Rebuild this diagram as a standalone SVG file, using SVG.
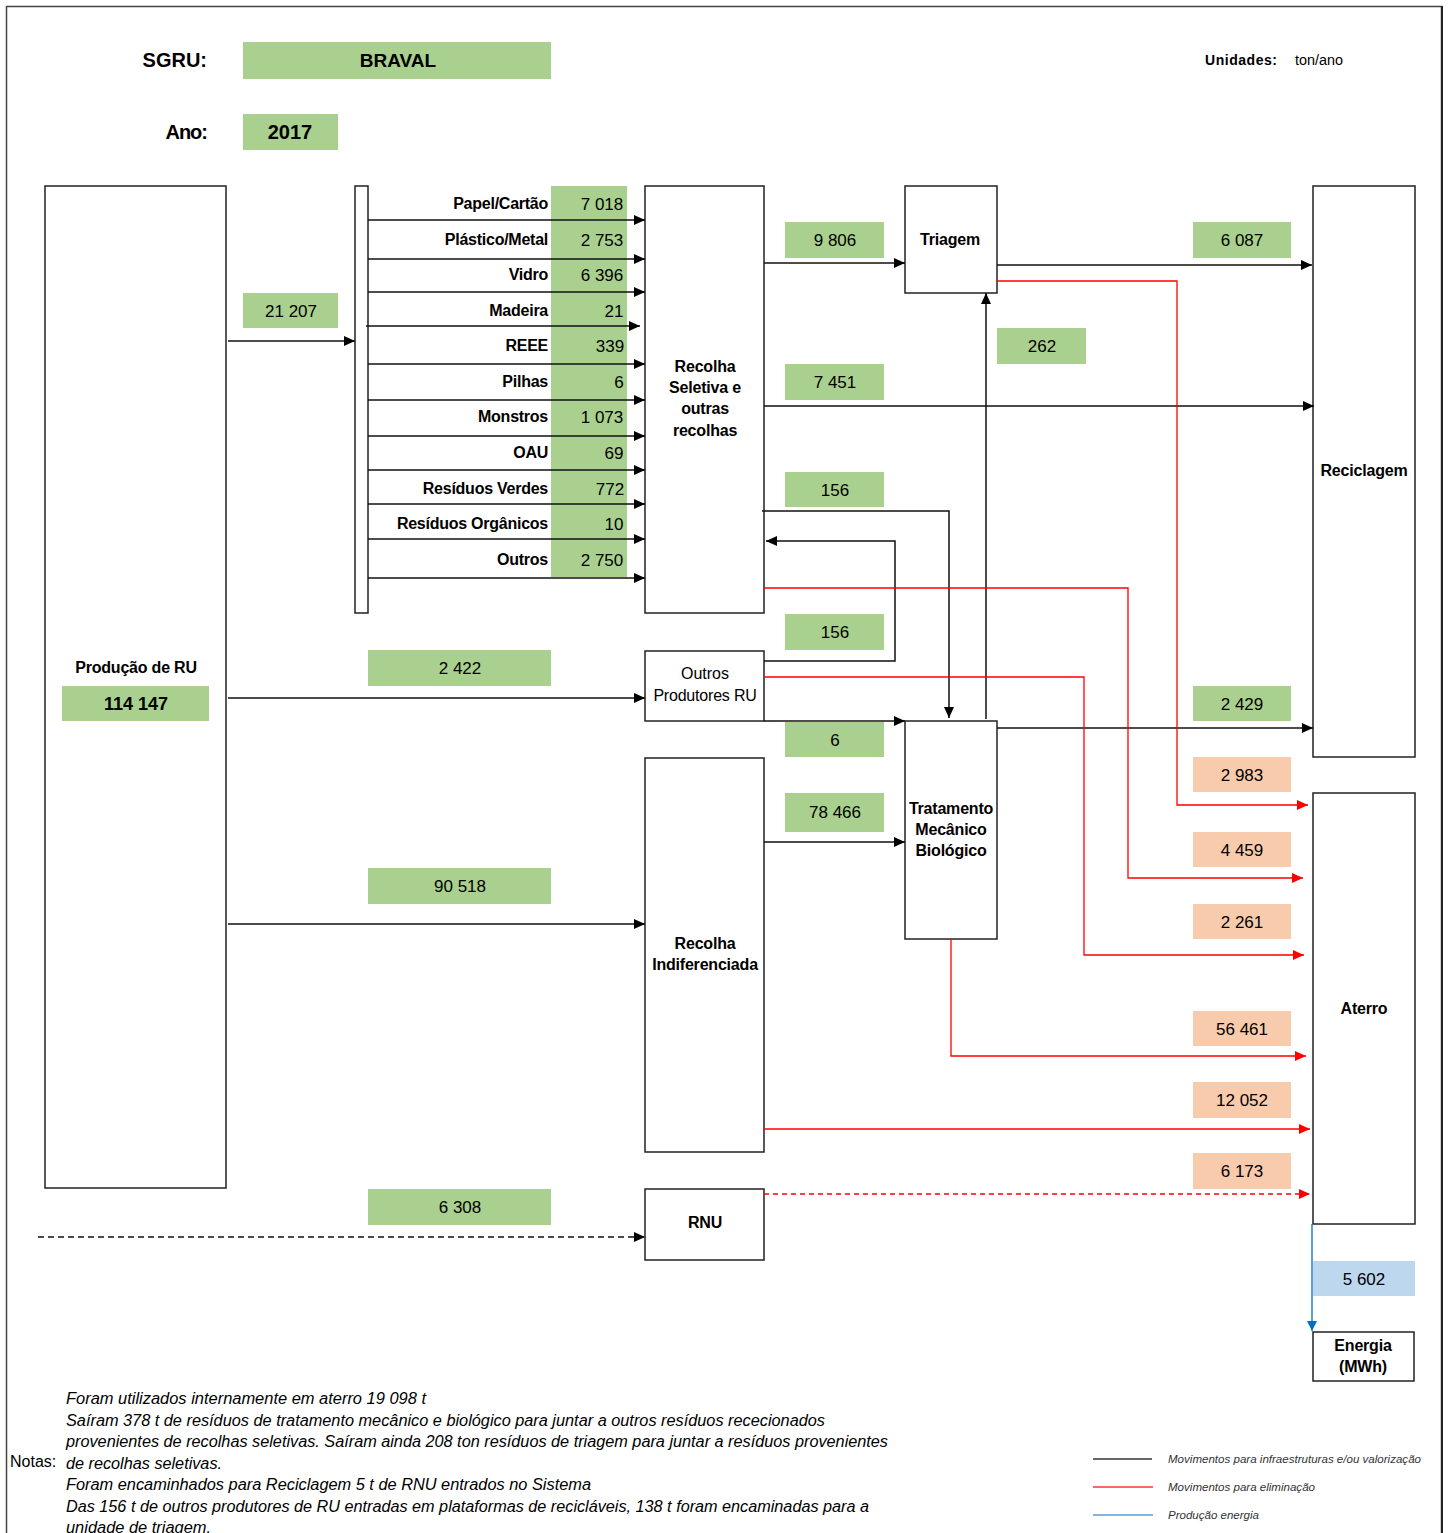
<svg xmlns="http://www.w3.org/2000/svg" width="1448" height="1533" viewBox="0 0 1448 1533">
<defs>
<style>
.t{font-family:"Liberation Sans",Arial,sans-serif;fill:#000}
.b{font-weight:bold}
.lab{font-size:16px;font-weight:bold;text-anchor:end;letter-spacing:-0.25px}
.val{font-size:17px;text-anchor:middle}
.nt{font-size:16px;font-weight:bold;text-anchor:middle;letter-spacing:-0.2px}
.box{fill:#fff;stroke:#222;stroke-width:1.5}
.g{fill:#a9d08e}
.p{fill:#f8cbad}
.bl{fill:#bdd7ee}
.k{stroke:#111;stroke-width:1.5;fill:none}
.r{stroke:#ff0000;stroke-width:1.3;fill:none}
.u{stroke:#0070c0;stroke-width:1.3;fill:none}
.note{font-size:16px;font-style:italic}
.leg{font-size:11px;font-style:italic;fill:#333}
</style>
<marker id="ak" markerUnits="userSpaceOnUse" markerWidth="11" markerHeight="10" refX="11" refY="5" orient="auto"><path d="M0,0 L11,5 L0,10 z" fill="#000"/></marker>
<marker id="ar" markerUnits="userSpaceOnUse" markerWidth="11" markerHeight="10" refX="11" refY="5" orient="auto"><path d="M0,0 L11,5 L0,10 z" fill="#ff0000"/></marker>
<marker id="ab" markerUnits="userSpaceOnUse" markerWidth="10" markerHeight="10" refX="10" refY="5" orient="auto"><path d="M0,0 L10,5 L0,10 z" fill="#0070c0"/></marker>
</defs>
<rect width="1448" height="1533" fill="#fff"/>
<rect x="6.5" y="6.5" width="1435" height="1540" fill="none" stroke="#444" stroke-width="1.5"/>
<line x1="1442" y1="6" x2="1442" y2="1533" stroke="#222" stroke-width="2"/>

<g id="header">
<text class="t b" x="207" y="67" font-size="20" text-anchor="end">SGRU:</text>
<rect class="g" x="243" y="42" width="308" height="37"/>
<text class="t b" x="398" y="67" font-size="19" text-anchor="middle">BRAVAL</text>
<text class="t b" x="207" y="139" font-size="20" text-anchor="end" letter-spacing="-1">Ano:</text>
<rect class="g" x="243" y="114" width="95" height="36"/>
<text class="t b" x="290" y="139" font-size="20" text-anchor="middle">2017</text>
<text class="t b" x="1205" y="65" font-size="14" textLength="72" lengthAdjust="spacing">Unidades:</text>
<text class="t" x="1295" y="65" font-size="14" textLength="48" lengthAdjust="spacingAndGlyphs">ton/ano</text>
</g>

<g id="values">
<rect class="g" x="243" y="293" width="95" height="35"/><text class="t val" x="291" y="317">21 207</text>
<rect class="g" x="551" y="186" width="76" height="391"/>
<rect class="g" x="785" y="222" width="99" height="36"/><text class="t val" x="835" y="246">9 806</text>
<rect class="g" x="1193" y="222" width="98" height="36"/><text class="t val" x="1242" y="246">6 087</text>
<rect class="g" x="997" y="328" width="89" height="36"/><text class="t val" x="1042" y="352">262</text>
<rect class="g" x="785" y="364" width="99" height="36"/><text class="t val" x="835" y="388">7 451</text>
<rect class="g" x="785" y="472" width="99" height="35"/><text class="t val" x="835" y="496">156</text>
<rect class="g" x="785" y="614" width="99" height="36"/><text class="t val" x="835" y="638">156</text>
<rect class="g" x="368" y="650" width="183" height="36"/><text class="t val" x="460" y="674">2 422</text>
<rect class="g" x="1193" y="686" width="98" height="35"/><text class="t val" x="1242" y="710">2 429</text>
<rect class="g" x="785" y="722" width="99" height="35"/><text class="t val" x="835" y="746">6</text>
<rect class="p" x="1193" y="757" width="98" height="35"/><text class="t val" x="1242" y="781">2 983</text>
<rect class="g" x="785" y="793" width="99" height="39"/><text class="t val" x="835" y="818">78 466</text>
<rect class="p" x="1193" y="832" width="98" height="35"/><text class="t val" x="1242" y="856">4 459</text>
<rect class="g" x="368" y="868" width="183" height="36"/><text class="t val" x="460" y="892">90 518</text>
<rect class="p" x="1193" y="904" width="98" height="35"/><text class="t val" x="1242" y="928">2 261</text>
<rect class="p" x="1193" y="1011" width="98" height="35"/><text class="t val" x="1242" y="1035">56 461</text>
<rect class="p" x="1193" y="1082" width="98" height="36"/><text class="t val" x="1242" y="1106">12 052</text>
<rect class="p" x="1193" y="1153" width="98" height="36"/><text class="t val" x="1242" y="1177">6 173</text>
<rect class="g" x="368" y="1189" width="183" height="36"/><text class="t val" x="460" y="1213">6 308</text>
<rect class="bl" x="1313" y="1261" width="102" height="35"/><text class="t val" x="1364" y="1285">5 602</text>
</g>

<g id="producao">
<rect class="box" x="45" y="186" width="181" height="1002"/>
<text class="t nt" x="136" y="673" letter-spacing="-0.5">Produção de RU</text>
<rect class="g" x="62" y="686" width="147" height="35"/>
<text class="t b" x="136" y="710" font-size="18" text-anchor="middle">114 147</text>
</g>

<g id="distribuidor">
<rect class="box" x="355" y="186" width="13" height="427"/>
</g>

<g id="materiais">
<text class="t lab" x="548" y="209">Papel/Cartão</text><text class="t val" x="602" y="210">7 018</text>
<text class="t lab" x="548" y="245">Plástico/Metal</text><text class="t val" x="602" y="246">2 753</text>
<text class="t lab" x="548" y="280">Vidro</text><text class="t val" x="602" y="281">6 396</text>
<text class="t lab" x="548" y="316">Madeira</text><text class="t val" x="614" y="317">21</text>
<text class="t lab" x="548" y="351">REEE</text><text class="t val" x="610" y="352">339</text>
<text class="t lab" x="548" y="387">Pilhas</text><text class="t val" x="619" y="388">6</text>
<text class="t lab" x="548" y="422">Monstros</text><text class="t val" x="602" y="423">1 073</text>
<text class="t lab" x="548" y="458">OAU</text><text class="t val" x="614" y="459">69</text>
<text class="t lab" x="548" y="494">Resíduos Verdes</text><text class="t val" x="610" y="495">772</text>
<text class="t lab" x="548" y="529">Resíduos Orgânicos</text><text class="t val" x="614" y="530">10</text>
<text class="t lab" x="548" y="565">Outros</text><text class="t val" x="602" y="566">2 750</text>
</g>

<g id="recolha-seletiva">
<rect class="box" x="645" y="186" width="119" height="427"/>
<text class="t nt" x="705" y="372">Recolha</text>
<text class="t nt" x="705" y="393">Seletiva e</text>
<text class="t nt" x="705" y="414">outras</text>
<text class="t nt" x="705" y="436">recolhas</text>
</g>

<g id="triagem">
<rect class="box" x="905" y="186" width="92" height="107"/>
<text class="t nt" x="950" y="245">Triagem</text>
</g>

<g id="outros-produtores">
<rect class="box" x="645" y="651" width="119" height="70"/>
<text class="t" x="705" y="679" font-size="16" text-anchor="middle">Outros</text>
<text class="t" x="705" y="701" font-size="16" text-anchor="middle" letter-spacing="-0.2">Produtores RU</text>
</g>

<g id="tmb">
<rect class="box" x="905" y="721" width="92" height="218"/>
<text class="t nt" x="951" y="814" letter-spacing="-0.4">Tratamento</text>
<text class="t nt" x="951" y="835">Mecânico</text>
<text class="t nt" x="951" y="856">Biológico</text>
</g>

<g id="recolha-indiferenciada">
<rect class="box" x="645" y="758" width="119" height="394"/>
<text class="t nt" x="705" y="949">Recolha</text>
<text class="t nt" x="705" y="970" letter-spacing="-0.4">Indiferenciada</text>
</g>

<g id="rnu">
<rect class="box" x="645" y="1189" width="119" height="71"/>
<text class="t nt" x="705" y="1228">RNU</text>
</g>

<g id="reciclagem">
<rect class="box" x="1313" y="186" width="102" height="571"/>
<text class="t nt" x="1364" y="476">Reciclagem</text>
</g>

<g id="aterro">
<rect class="box" x="1313" y="793" width="102" height="431"/>
<text class="t nt" x="1364" y="1014" letter-spacing="-0.8">Aterro</text>
</g>

<g id="energia">
<rect class="box" x="1313" y="1332" width="101" height="49"/>
<text class="t nt" x="1363" y="1351" letter-spacing="-0.5">Energia</text>
<text class="t nt" x="1363" y="1372" letter-spacing="-0.8">(MWh)</text>
</g>

<g id="connectors">
<path class="k" d="M228,341 H355" marker-end="url(#ak)"/>
<path class="k" d="M368,220 H645" marker-end="url(#ak)"/>
<path class="k" d="M368,259 H645" marker-end="url(#ak)"/>
<path class="k" d="M368,292 H645" marker-end="url(#ak)"/>
<path class="k" d="M366,326 H640" marker-end="url(#ak)"/>
<path class="k" d="M368,364 H645" marker-end="url(#ak)"/>
<path class="k" d="M368,400 H645" marker-end="url(#ak)"/>
<path class="k" d="M368,436 H645" marker-end="url(#ak)"/>
<path class="k" d="M368,470 H645" marker-end="url(#ak)"/>
<path class="k" d="M368,504 H645" marker-end="url(#ak)"/>
<path class="k" d="M368,539 H645" marker-end="url(#ak)"/>
<path class="k" d="M368,578 H645" marker-end="url(#ak)"/>
<path class="k" d="M764,263 H905" marker-end="url(#ak)"/>
<path class="k" d="M997,265 H1312" marker-end="url(#ak)"/>
<path class="k" d="M764,406 H1314" marker-end="url(#ak)"/>
<path class="k" d="M986,719 V293" marker-end="url(#ak)"/>
<path class="k" d="M762,511 H949 V718" marker-end="url(#ak)"/>
<path class="k" d="M764,661 H895 V541 H766" marker-end="url(#ak)"/>
<path class="k" d="M228,698 H645" marker-end="url(#ak)"/>
<path class="k" d="M764,721 H905" marker-end="url(#ak)"/>
<path class="k" d="M997,728 H1313" marker-end="url(#ak)"/>
<path class="k" d="M764,842 H905" marker-end="url(#ak)"/>
<path class="k" d="M228,924 H645" marker-end="url(#ak)"/>
<path class="k" d="M38,1237 H645" stroke-dasharray="6,4" marker-end="url(#ak)"/>
<path class="r" d="M997,281 H1177 V805 H1308" marker-end="url(#ar)"/>
<path class="r" d="M764,588 H1128 V878 H1303" marker-end="url(#ar)"/>
<path class="r" d="M764,677 H1084 V955 H1304" marker-end="url(#ar)"/>
<path class="r" d="M951,939 V1056 H1306" marker-end="url(#ar)"/>
<path class="r" d="M764,1129 H1310" marker-end="url(#ar)"/>
<path class="r" d="M764,1194 H1310" stroke-dasharray="5,4" marker-end="url(#ar)"/>
<path class="u" d="M1312,1224 V1331" marker-end="url(#ab)"/>
</g>

<g id="notas">
<text class="t" x="10" y="1467" font-size="16">Notas:</text>
<text class="t note" x="66" y="1404" textLength="360" lengthAdjust="spacingAndGlyphs">Foram utilizados internamente em aterro 19 098 t</text>
<text class="t note" x="66" y="1426" textLength="759" lengthAdjust="spacingAndGlyphs">Saíram 378 t de resíduos de tratamento mecânico e biológico para juntar a outros resíduos rececionados</text>
<text class="t note" x="66" y="1447" textLength="822" lengthAdjust="spacingAndGlyphs">provenientes de recolhas seletivas. Saíram ainda 208 ton resíduos de triagem para juntar a resíduos provenientes</text>
<text class="t note" x="66" y="1469" textLength="156" lengthAdjust="spacingAndGlyphs">de recolhas seletivas.</text>
<text class="t note" x="66" y="1490" textLength="525" lengthAdjust="spacingAndGlyphs">Foram encaminhados para Reciclagem 5 t de RNU entrados no Sistema</text>
<text class="t note" x="66" y="1512" textLength="803" lengthAdjust="spacingAndGlyphs">Das 156 t de outros produtores de RU entradas em plataformas de recicláveis, 138 t foram encaminadas para a</text>
<text class="t note" x="66" y="1533" textLength="145" lengthAdjust="spacingAndGlyphs">unidade de triagem.</text>
</g>

<g id="legenda">
<line x1="1093" y1="1459" x2="1152" y2="1459" stroke="#333" stroke-width="1.3"/>
<line x1="1093" y1="1487" x2="1153" y2="1487" stroke="#ff3333" stroke-width="1.3"/>
<line x1="1093" y1="1515" x2="1153" y2="1515" stroke="#5b9bd5" stroke-width="1.3"/>
<text class="t leg" x="1168" y="1463" textLength="253" lengthAdjust="spacingAndGlyphs">Movimentos para infraestruturas e/ou valorização</text>
<text class="t leg" x="1168" y="1491" textLength="147" lengthAdjust="spacingAndGlyphs">Movimentos para eliminação</text>
<text class="t leg" x="1168" y="1519" textLength="91" lengthAdjust="spacingAndGlyphs">Produção energia</text>
</g>
</svg>
